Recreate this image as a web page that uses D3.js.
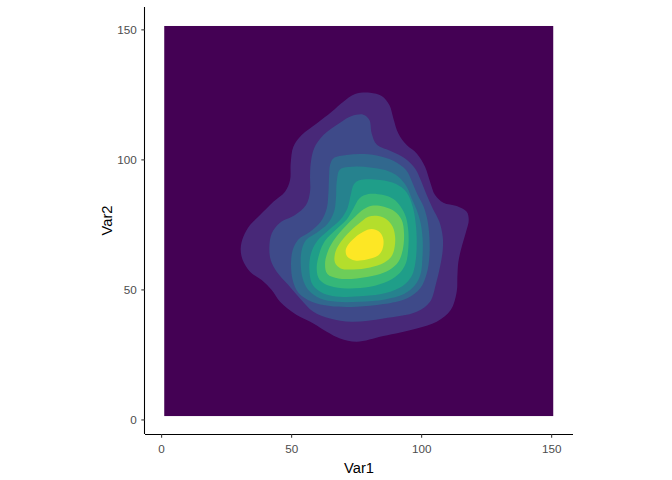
<!DOCTYPE html>
<html>
<head>
<meta charset="utf-8">
<script src="https://cdn.jsdelivr.net/npm/d3@7"></script>
<style>
  html, body { margin: 0; padding: 0; background: #ffffff; }
  svg { display: block; }
</style>
</head>
<body>
<svg id="chart" width="672" height="480"></svg>
<script>
// ---- data ----
const xTicks = [0, 50, 100, 150];
const yTicks = [0, 50, 100, 150];
const xLabel = "Var1";
const yLabel = "Var2";
// extent of the density grid (level 0 fills it)
const gridX = [1.2, 150.8];
const gridY = [1.3, 151.3];
// viridis, 10 bins
const bandColors = ["#440154","#482878","#3E4A89","#31688E","#26828E","#1F9E89","#35B779","#6DCD59","#B4DE2C","#FDE725"];

// outlines of each filled density band (Var1, Var2)
const band1 = [[74.58,125.12],[80.35,125.63],[84.84,124.35],[87.78,120.88],[89.32,115.76],[91.24,109.99],[94.45,105.50],[98.30,102.29],[101.50,97.17],[103.42,91.40],[105.35,86.27],[108.55,83.32],[113.68,82.04],[117.53,79.86],[118.30,76.65],[117.27,72.17],[115.61,66.40],[114.32,60.63],[113.94,54.86],[113.68,49.09],[111.37,42.04],[105.99,37.55],[98.30,34.99],[85.48,32.04],[75.22,29.86],[68.81,31.14],[63.68,33.70],[58.55,36.91],[52.14,40.12],[45.73,45.24],[42.53,49.73],[38.68,53.58],[34.19,56.78],[31.37,61.27],[30.60,65.76],[31.63,70.24],[34.19,74.73],[38.04,78.58],[43.17,83.70],[47.65,87.55],[49.58,92.04],[49.83,98.45],[50.86,104.86],[54.06,109.35],[59.83,113.83],[65.60,118.32],[70.09,122.17]];
const band2 = [[73.30,116.65],[77.78,117.17],[80.09,115.11],[80.99,109.99],[82.91,105.76],[88.04,103.32],[93.81,100.37],[97.66,96.53],[99.84,92.04],[102.14,86.27],[104.45,81.14],[107.01,76.01],[108.30,70.24],[108.30,65.12],[107.27,58.70],[105.73,52.29],[103.42,45.24],[98.30,41.40],[85.48,38.83],[73.30,37.55],[64.96,38.83],[58.55,41.40],[53.42,46.53],[48.94,51.65],[44.45,56.78],[42.14,61.27],[41.63,66.40],[42.53,71.53],[45.73,75.63],[51.50,78.58],[55.73,82.42],[57.27,87.55],[57.27,93.32],[57.53,98.45],[58.81,104.22],[62.40,109.35],[68.81,114.09]];
const band3 = [[66.24,100.37],[71.37,101.65],[76.50,102.04],[82.91,101.52],[89.32,99.47],[94.19,95.88],[96.76,90.76],[98.68,86.27],[100.86,82.04],[102.40,76.65],[103.17,70.24],[103.17,62.55],[102.15,56.14],[99.58,50.37],[94.45,46.53],[85.48,44.35],[75.22,43.32],[64.96,43.58],[57.91,45.24],[52.78,48.70],[50.60,53.58],[49.96,59.99],[50.60,65.12],[52.78,69.22],[57.27,72.17],[61.37,76.01],[63.68,81.14],[64.32,86.91],[64.58,93.32],[64.96,97.81]];
const band4 = [[68.81,96.14],[73.94,97.17],[80.35,96.91],[86.12,95.88],[91.24,93.32],[94.45,89.47],[96.37,84.99],[98.30,80.50],[99.84,75.37],[100.60,68.96],[100.48,61.91],[99.84,56.14],[97.66,51.65],[93.42,48.19],[86.12,46.14],[76.50,45.24],[67.53,45.24],[61.12,46.53],[56.63,49.73],[54.45,54.22],[53.68,59.99],[54.07,65.12],[55.73,68.96],[59.83,71.78],[63.94,75.11],[66.50,79.86],[67.27,85.63],[67.53,91.40]];
const band5 = [[76.50,92.04],[84.19,92.04],[90.35,90.50],[94.45,87.29],[96.76,81.78],[97.91,75.37],[98.30,67.68],[97.78,60.24],[96.37,55.12],[92.91,51.27],[86.76,48.70],[77.78,47.42],[68.81,47.17],[62.40,48.45],[58.30,51.65],[57.01,57.42],[57.65,63.83],[60.09,68.70],[64.71,73.06],[68.81,76.65],[71.63,81.14],[72.91,86.27],[74.19,90.50]];
const band6 = [[79.71,86.65],[85.48,86.27],[89.32,84.73],[92.14,81.78],[94.19,77.68],[95.09,72.17],[95.09,66.40],[94.19,60.24],[91.88,56.40],[87.40,53.19],[80.35,51.01],[71.37,50.37],[64.96,51.27],[60.86,53.83],[59.83,58.06],[60.86,63.83],[63.04,68.70],[67.27,73.06],[71.37,76.91],[73.94,81.14],[76.24,84.99]];
const band7 = [[80.99,82.17],[85.73,81.78],[89.96,79.86],[92.53,76.65],[93.42,71.53],[92.91,65.12],[91.24,60.63],[87.78,57.42],[82.91,55.50],[75.22,54.22],[68.17,54.22],[63.94,55.88],[63.04,59.99],[64.32,65.12],[66.88,69.60],[70.73,74.09],[74.58,77.94],[78.04,80.88]];
const band8 = [[79.71,77.94],[83.55,78.19],[86.76,76.91],[89.06,74.09],[89.96,70.50],[89.83,66.39],[88.68,62.81],[85.73,60.24],[80.35,58.45],[73.94,57.68],[69.06,58.06],[66.88,60.24],[66.88,63.83],[68.55,67.42],[71.63,71.27],[75.86,75.11]];
const band9 = [[80.99,73.19],[84.19,71.91],[85.47,69.22],[85.09,65.37],[83.30,62.94],[79.06,61.53],[74.58,61.14],[71.63,62.55],[70.99,65.12],[72.27,67.68],[74.58,69.99],[77.78,72.17]];
const bands = [band1, band2, band3, band4, band5, band6, band7, band8, band9];

// ---- layout ----
const panel = { left: 145, right: 573, top: 7, bottom: 434 };
const x = d3.scaleLinear().domain([-6.2, 158.4]).range([panel.left, panel.right]);
const y = d3.scaleLinear().domain([-5.6, 158.6]).range([panel.bottom, panel.top]);

const svg = d3.select("#chart");
const font = "'Liberation Sans', Arial, Helvetica, sans-serif";

// level 0: whole grid
svg.append("rect")
  .attr("x", x(gridX[0]))
  .attr("y", y(gridY[1]))
  .attr("width", x(gridX[1]) - x(gridX[0]))
  .attr("height", y(gridY[0]) - y(gridY[1]))
  .attr("fill", bandColors[0]);

const line = d3.line()
  .x(d => x(d[0]))
  .y(d => y(d[1]))
  .curve(d3.curveCatmullRomClosed.alpha(0.5));

svg.append("g").selectAll("path")
  .data(bands)
  .join("path")
  .attr("d", d => line(d))
  .attr("fill", (d, i) => bandColors[i + 1])
  .attr("stroke", "none");

// ---- axes ----
const xAxis = d3.axisBottom(x).tickValues(xTicks).tickSize(3.7).tickSizeOuter(0).tickPadding(6.5);
const yAxis = d3.axisLeft(y).tickValues(yTicks).tickSize(3.7).tickSizeOuter(0).tickPadding(4.5);

const gx = svg.append("g").attr("transform", `translate(0,${panel.bottom})`).call(xAxis);
const gy = svg.append("g").attr("transform", `translate(${panel.left},0)`).call(yAxis);

[gx, gy].forEach(g => {
  g.select(".domain").attr("stroke", "#000").attr("stroke-width", 1.07);
  g.selectAll(".tick line").attr("stroke", "#333333").attr("stroke-width", 1.07);
  g.selectAll(".tick text")
    .attr("fill", "#4D4D4D")
    .attr("font-size", "11.7px")
    .attr("font-family", font);
});

// redraw domain lines across full panel
gx.select(".domain").attr("d", `M${panel.left},0.5H${panel.right}`);
gy.select(".domain").attr("d", `M-0.5,${panel.top}V${panel.bottom}`);

svg.append("text")
  .attr("x", (panel.left + panel.right) / 2)
  .attr("y", 472.5)
  .attr("text-anchor", "middle")
  .attr("font-family", font)
  .attr("font-size", "14.7px")
  .attr("fill", "#000")
  .text(xLabel);

svg.append("text")
  .attr("transform", `translate(111.5,${(panel.top + panel.bottom) / 2}) rotate(-90)`)
  .attr("text-anchor", "middle")
  .attr("font-family", font)
  .attr("font-size", "14.7px")
  .attr("fill", "#000")
  .text(yLabel);
</script>
</body>
</html>
